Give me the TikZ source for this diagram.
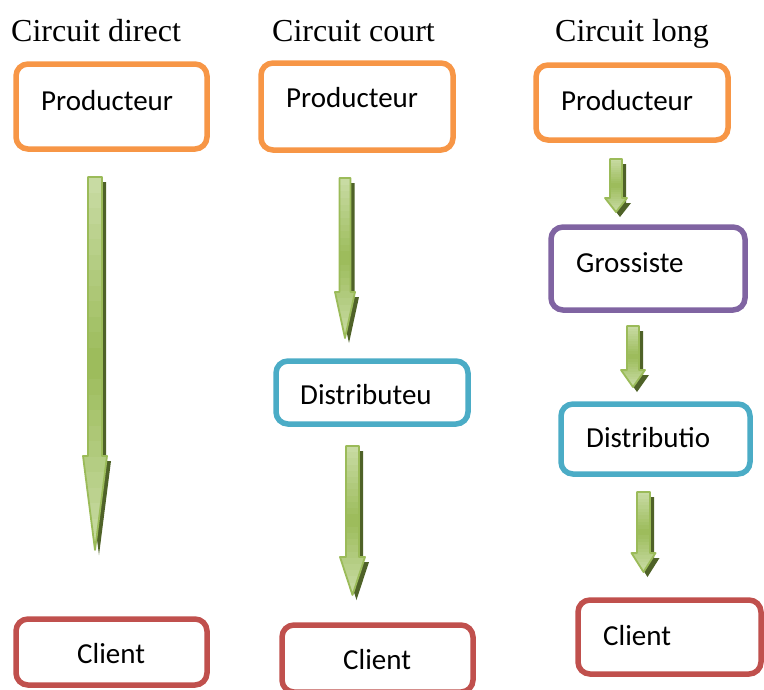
\documentclass[tikz,border=0pt]{standalone}
\usepackage{fontspec}
\newfontfamily\labelfont{Carlito}
\newfontfamily\titlefont{Liberation Serif}

\definecolor{prodorange}{HTML}{F79646}
\definecolor{clientred}{HTML}{C0504D}
\definecolor{distblue}{HTML}{4BACC6}
\definecolor{grospurple}{HTML}{8064A2}
\definecolor{arrowlight}{HTML}{C8DBA3}
\definecolor{arrowmid}{HTML}{9BBB59}
\definecolor{arrowdark}{HTML}{4F6228}

\tikzset{
  box/.style={draw, line width=5.5pt, rounded corners=12pt, fill=white,
              inner sep=0pt},
  lbl/.style={font=\labelfont\fontsize{29}{34}\selectfont, inner sep=0pt,
              anchor=base west},
  heading/.style={font=\titlefont\fontsize{32}{36}\selectfont, inner sep=0pt,
              anchor=base west},
  % downward block arrow: total length / head length / shaft half width / head half width
  pics/garrow/.style args={#1/#2/#3/#4}{code={
    \fill[arrowdark, shift={(4,5)}]
      (-#3,0) -- (#3,0) -- (#3,#1-#2) -- (#4,#1-#2) -- (0,#1)
      -- (-#4,#1-#2) -- (-#3,#1-#2) -- cycle;
    \begin{scope}
      \clip (-#3,0) -- (#3,0) -- (#3,#1-#2) -- (#4,#1-#2) -- (0,#1)
        -- (-#4,#1-#2) -- (-#3,#1-#2) -- cycle;
      % light at both ends, deeper green towards the middle
      \foreach \i in {0,...,23}{
        \pgfmathtruncatemacro\mixp{abs(\i-11.5)/11.5*100}
        \fill[arrowlight!\mixp!arrowmid]
          (-#4-1,{\i*#1/24}) rectangle (#4+1,{(\i+1)*#1/24+0.6});
      }
    \end{scope}
    \draw[arrowmid, line width=1.8pt, line join=round]
      (-#3,0) -- (#3,0) -- (#3,#1-#2) -- (#4,#1-#2) -- (0,#1)
      -- (-#4,#1-#2) -- (-#3,#1-#2) -- cycle;
  }},
}

\begin{document}
\begin{tikzpicture}[x=1pt, y=-1pt]
\useasboundingbox (0,0) rectangle (764,689);
\clip (0,0) rectangle (764,689);

% column headings
\node[heading] (h1) at (11,41)  {Circuit direct};
\node[heading] (h2) at (272,41) {Circuit court};
\node[heading] (h3) at (555,41) {Circuit long};

% circuit direct
\node[box, draw=prodorange, minimum width=191pt, minimum height=85pt]
  (p1) at (111.5,106.5) {};
\node[box, draw=clientred, minimum width=191pt, minimum height=66pt]
  (c1) at (111.5,652) {};
\node[lbl] (p1t) at (41,110) {Producteur};
\node[lbl] (c1t) at (77,663) {Client};

% circuit court
\node[box, draw=prodorange, minimum width=192pt, minimum height=87pt]
  (p2) at (357,106.5) {};
\node[box, draw=distblue, minimum width=192pt, minimum height=63pt]
  (d2) at (372,392.5) {};
\node[box, draw=clientred, minimum width=191pt, minimum height=67pt]
  (c2) at (377.5,658.5) {};
\node[lbl] (p2t) at (286,107) {Producteur};
\node[lbl] (d2t) at (300,404) {Distributeu};
\node[lbl] (c2t) at (343,669) {Client};

% circuit long
\node[box, draw=prodorange, minimum width=192pt, minimum height=75pt]
  (p3) at (632,102.5) {};
\node[box, draw=grospurple, minimum width=194pt, minimum height=83pt]
  (g3) at (648,268.5) {};
\node[box, draw=distblue, minimum width=189pt, minimum height=70pt]
  (d3) at (655.5,439) {};
\node[box, draw=clientred, minimum width=183pt, minimum height=74pt]
  (c3) at (669.5,637) {};
\node[lbl] (p3t) at (561,110) {Producteur};
\node[lbl] (g3t) at (576,272) {Grossiste};
\node[lbl] (d3t) at (586,447) {Distributio};
\node[lbl] (c3t) at (603,645) {Client};

% arrow starting points (top of each shaft)
\coordinate (a1s) at (95,177);
\coordinate (a2s) at (345,178);
\coordinate (a3s) at (352.5,446);
\coordinate (a4s) at (616,159);
\coordinate (a5s) at (633,326);
\coordinate (a6s) at (643.5,492);

\pic at (a1s) {garrow={373/94/7/12}};
\pic at (a2s) {garrow={160/46/5.5/10}};
\pic at (a3s) {garrow={149/38/6.5/12.5}};
\pic at (a4s) {garrow={53/14/6/11}};
\pic at (a5s) {garrow={61/17/6/12}};
\pic at (a6s) {garrow={80/19/6.5/12}};
\end{tikzpicture}
\end{document}
